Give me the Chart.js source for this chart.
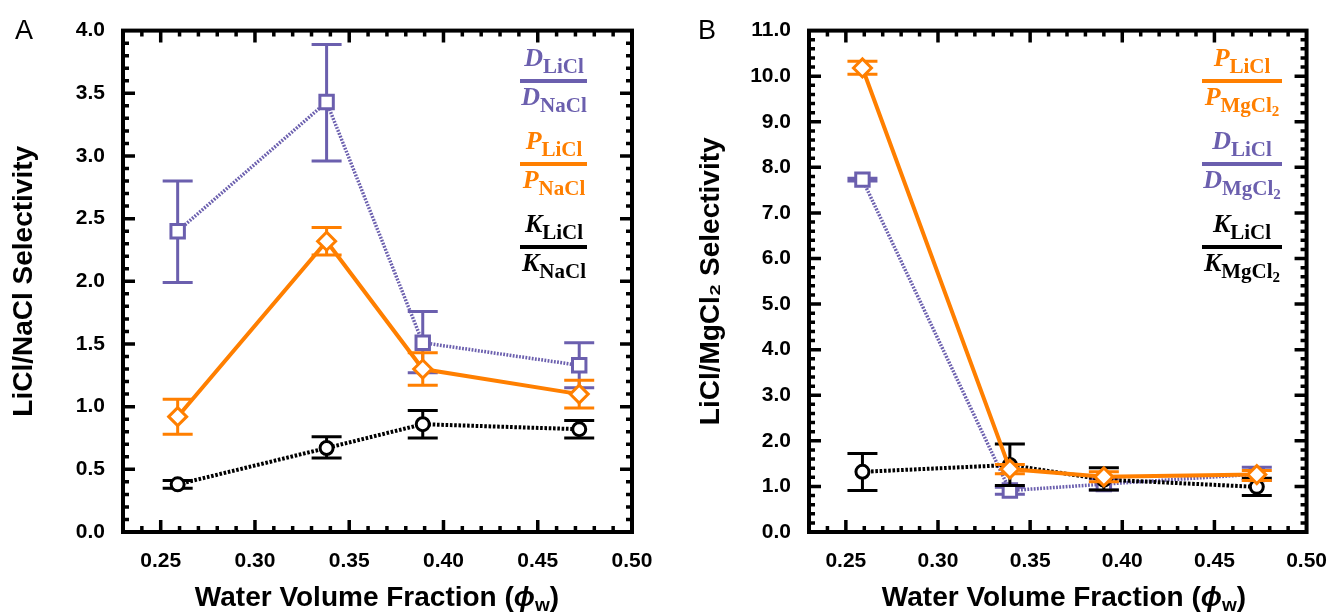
<!DOCTYPE html>
<html>
<head>
<meta charset="utf-8">
<script src="https://cdn.jsdelivr.net/npm/chart.js@4.4.1/dist/chart.umd.min.js"></script>
<style>
  html, body { margin: 0; padding: 0; background: #fff; }
  #wrap { position: relative; width: 1344px; height: 614px; overflow: hidden; background: #fff; }
  canvas { position: absolute; top: 0; }
  .panel { position: absolute; font-family: 'Liberation Sans', Arial, sans-serif; font-size: 27px; line-height: 27px; color: #000; }
  .xtitle { position: absolute; top: 583px; font-family: 'Liberation Sans', Arial, sans-serif; font-weight: bold; font-size: 28px; line-height: 28px; color: #000; white-space: nowrap; transform: translateX(-50%); }
  .xtitle i { font-style: italic; }
  .xtitle sub { font-size: 19px; vertical-align: -5px; line-height: 0; font-weight: bold; }
  .fp { position: absolute; white-space: nowrap; font-family: 'Liberation Serif', 'DejaVu Serif', serif; font-weight: bold; font-size: 26px; line-height: 30px; transform: translateX(-50%); }
  .fp i { font-style: italic; }
  .fp sub { font-size: 21px; vertical-align: -7px; line-height: 0; font-style: normal; }
  .fp sub sub { font-size: 15px; vertical-align: -4px; }
  .bar { position: absolute; height: 4px; }
</style>
</head>
<body>
<div id="wrap">
  <canvas id="chartA" width="672" height="614" style="left:0px"></canvas>
  <canvas id="chartB" width="672" height="614" style="left:672px"></canvas>

  <div class="panel" style="left:15px; top:17px;">A</div>
  <div class="panel" style="left:698px; top:17px;">B</div>

  <div class="xtitle" style="left:377px;">Water Volume Fraction (<i>ϕ</i><sub>w</sub>)</div>
  <div class="xtitle" style="left:1064px;">Water Volume Fraction (<i>ϕ</i><sub>w</sub>)</div>

  <!-- Panel A legend -->
  <div class="fp" style="left:554px; top:43px; color:#6b5fae;"><i>D</i><sub>LiCl</sub></div>
  <div class="bar" style="left:520px; top:79px; width:67px; background:#6b5fae;"></div>
  <div class="fp" style="left:554px; top:82px; color:#6b5fae;"><i>D</i><sub>NaCl</sub></div>

  <div class="fp" style="left:554px; top:126px; color:#ff7f00;"><i>P</i><sub>LiCl</sub></div>
  <div class="bar" style="left:520px; top:162px; width:67px; background:#ff7f00;"></div>
  <div class="fp" style="left:554px; top:165px; color:#ff7f00;"><i>P</i><sub>NaCl</sub></div>

  <div class="fp" style="left:554px; top:209px; color:#000;"><i>K</i><sub>LiCl</sub></div>
  <div class="bar" style="left:520px; top:245px; width:67px; background:#000;"></div>
  <div class="fp" style="left:554px; top:248px; color:#000;"><i>K</i><sub>NaCl</sub></div>

  <!-- Panel B legend -->
  <div class="fp" style="left:1242px; top:43px; color:#ff7f00;"><i>P</i><sub>LiCl</sub></div>
  <div class="bar" style="left:1202px; top:79px; width:80px; background:#ff7f00;"></div>
  <div class="fp" style="left:1242px; top:82px; color:#ff7f00;"><i>P</i><sub>MgCl<sub>2</sub></sub></div>

  <div class="fp" style="left:1242px; top:126px; color:#6b5fae;"><i>D</i><sub>LiCl</sub></div>
  <div class="bar" style="left:1202px; top:162px; width:80px; background:#6b5fae;"></div>
  <div class="fp" style="left:1242px; top:165px; color:#6b5fae;"><i>D</i><sub>MgCl<sub>2</sub></sub></div>

  <div class="fp" style="left:1242px; top:209px; color:#000;"><i>K</i><sub>LiCl</sub></div>
  <div class="bar" style="left:1202px; top:245px; width:80px; background:#000;"></div>
  <div class="fp" style="left:1242px; top:248px; color:#000;"><i>K</i><sub>MgCl<sub>2</sub></sub></div>
</div>

<script>
// ---------------- DATA ----------------
// Panel A: LiCl/NaCl selectivity
const waterFractionA = [0.259, 0.338, 0.389, 0.472];
const diffA      = [2.40, 3.43, 1.51, 1.33];
const diffA_low  = [1.99, 2.96, 1.27, 1.15];
const diffA_high = [2.80, 3.89, 1.76, 1.51];
const permA      = [0.92, 2.32, 1.30, 1.10];
const permA_low  = [0.78, 2.21, 1.17, 0.99];
const permA_high = [1.06, 2.43, 1.43, 1.21];
const sorpA      = [0.38, 0.67, 0.86, 0.82];
const sorpA_low  = [0.35, 0.59, 0.75, 0.75];
const sorpA_high = [0.41, 0.76, 0.97, 0.89];

// Panel B: LiCl/MgCl2 selectivity
const waterFractionB = [0.259, 0.339, 0.390, 0.473];
const permB      = [10.18, 1.38, 1.21, 1.26];
const permB_low  = [10.04, 1.28, 1.10, 1.13];
const permB_high = [10.33, 1.48, 1.32, 1.35];
const diffB      = [7.73, 0.91, 1.05, 1.27];
const diffB_low  = [7.70, 0.83, 0.92, 1.13];
const diffB_high = [7.76, 0.98, 1.17, 1.42];
const sorpB      = [1.32, 1.47, 1.15, 0.99];
const sorpB_low  = [0.91, 1.02, 0.92, 0.80];
const sorpB_high = [1.72, 1.93, 1.41, 1.18];

// Tick labels
const xTickValues = [0.25, 0.30, 0.35, 0.40, 0.45, 0.50];
const yTickValuesA = [0.0, 0.5, 1.0, 1.5, 2.0, 2.5, 3.0, 3.5, 4.0];
const yTickValuesB = [0, 1, 2, 3, 4, 5, 6, 7, 8, 9, 10, 11];

const yTitleA = 'LiCl/NaCl Selectivity';
const yTitleB = 'LiCl/MgCl\u2082 Selectivity';

// ---------------- STYLE ----------------
const ORANGE = '#ff7f00';
const PURPLE = '#6b5fae';
const BLACK = '#000000';
const FONT = "'Liberation Sans', Arial, sans-serif";

const errorBarPlugin = {
  id: 'errorBars',
  beforeDatasetDraw(chart, args) {
    const ds = chart.data.datasets[args.index];
    if (!ds.errLow) return;
    const {ctx} = chart;
    const xs = chart.scales.x, ys = chart.scales.y;
    ctx.save();
    ctx.strokeStyle = ds.borderColor;
    ctx.lineWidth = 3;
    ctx.setLineDash([]);
    ctx.lineCap = 'butt';
    const half = 15;
    ds.data.forEach((p, i) => {
      const px = xs.getPixelForValue(p.x);
      const lo = ys.getPixelForValue(ds.errLow[i]);
      const hi = ys.getPixelForValue(ds.errHigh[i]);
      ctx.beginPath();
      ctx.moveTo(px, lo); ctx.lineTo(px, hi);
      ctx.moveTo(px - half, lo); ctx.lineTo(px + half, lo);
      ctx.moveTo(px - half, hi); ctx.lineTo(px + half, hi);
      ctx.stroke();
    });
    ctx.restore();
  }
};

const framePlugin = {
  id: 'frame',
  afterDraw(chart, args, opts) {
    const {ctx, chartArea: a} = chart;
    const xs = chart.scales.x, ys = chart.scales.y;
    ctx.save();
    ctx.strokeStyle = '#000';
    ctx.setLineDash([]);
    ctx.lineCap = 'butt';
    ctx.lineWidth = 3.5;
    ctx.beginPath();
    const k0 = Math.ceil(xs.min / opts.xStep - 1e-6), k1 = Math.floor(xs.max / opts.xStep + 1e-6);
    for (let k = k0; k <= k1; k++) {
      const v = k * opts.xStep;
      if (Math.abs(v - xs.min) < 1e-6 || Math.abs(v - xs.max) < 1e-6) continue;
      const len = (k % opts.xEvery === 0) ? 12 : 6;
      const px = xs.getPixelForValue(v);
      ctx.moveTo(px, a.bottom); ctx.lineTo(px, a.bottom - len);
      ctx.moveTo(px, a.top); ctx.lineTo(px, a.top + len);
    }
    const j0 = Math.ceil(ys.min / opts.yStep - 1e-6), j1 = Math.floor(ys.max / opts.yStep + 1e-6);
    for (let j = j0; j <= j1; j++) {
      const v = j * opts.yStep;
      if (Math.abs(v - ys.min) < 1e-6 || Math.abs(v - ys.max) < 1e-6) continue;
      const len = (j % opts.yEvery === 0) ? 12 : 6;
      const py = ys.getPixelForValue(v);
      ctx.moveTo(a.left, py); ctx.lineTo(a.left + len, py);
      ctx.moveTo(a.right, py); ctx.lineTo(a.right - len, py);
    }
    ctx.stroke();
    ctx.lineWidth = 4;
    ctx.strokeRect(a.left, a.top, a.right - a.left, a.bottom - a.top);
    ctx.restore();
  }
};

function series(xs, ys, lo, hi, color, kind, order) {
  const base = {
    data: xs.map((x, i) => ({x: x, y: ys[i]})),
    errLow: lo, errHigh: hi,
    borderColor: color,
    backgroundColor: '#ffffff',
    pointBackgroundColor: '#ffffff',
    pointBorderColor: color,
    pointBorderWidth: 3,
    showLine: true,
    order: order,
    tension: 0
  };
  if (kind === 'P') Object.assign(base, {borderWidth: 4, pointStyle: 'rectRot', pointRadius: 9});
  if (kind === 'D') Object.assign(base, {borderWidth: 3.5, borderDash: [1.8, 1.4], pointStyle: 'rect', pointRadius: 9.5});
  if (kind === 'K') Object.assign(base, {borderWidth: 4, borderDash: [2.6, 1.7], pointStyle: 'circle', pointRadius: 6.5});
  return base;
}

function makeOptions(yMax, yTicks, yTitle, leftWidth, rightPad, titlePad) {
  return {
    responsive: false,
    animation: false,
    devicePixelRatio: 1,
    layout: {padding: {top: 23, right: rightPad, bottom: 0, left: 0}},
    plugins: {
      legend: {display: false},
      tooltip: {enabled: false},
      frame: {}
    },
    scales: {
      x: {
        type: 'linear', min: 0.23, max: 0.50,
        afterBuildTicks: s => { s.ticks = xTickValues.map(v => ({value: v})); },
        afterFit: s => { s.height = 82; },
        grid: {display: false, drawTicks: false},
        border: {display: false},
        ticks: {
          padding: 17, color: '#000',
          font: {family: FONT, size: 21, weight: 'bold'},
          callback: v => Number(v).toFixed(2)
        }
      },
      y: {
        type: 'linear', min: 0, max: yMax,
        afterBuildTicks: s => { s.ticks = yTicks.map(v => ({value: v})); },
        afterFit: s => { s.width = leftWidth; },
        grid: {display: false, drawTicks: false},
        border: {display: false},
        ticks: {
          padding: 18, color: '#000',
          font: {family: FONT, size: 21, weight: 'bold'},
          callback: v => Number(v).toFixed(1)
        },
        title: {
          display: true, text: yTitle, color: '#000',
          font: {family: FONT, size: 28, weight: 'bold', lineHeight: 1.2},
          padding: {top: titlePad, bottom: 0}
        }
      }
    }
  };
}

const optsA = makeOptions(4, yTickValuesA, yTitleA, 123, 40, 7);
optsA.plugins.frame = {xStep: 0.01, xEvery: 5, yStep: 0.1, yEvery: 5};
new Chart(document.getElementById('chartA'), {
  type: 'scatter',
  data: {
    datasets: [
      series(waterFractionA, permA, permA_low, permA_high, ORANGE, 'P', 0),
      series(waterFractionA, sorpA, sorpA_low, sorpA_high, BLACK, 'K', 1),
      series(waterFractionA, diffA, diffA_low, diffA_high, PURPLE, 'D', 2)
    ]
  },
  options: optsA,
  plugins: [errorBarPlugin, framePlugin]
});

const optsB = makeOptions(11, yTickValuesB, yTitleB, 137, 25, 22);
optsB.plugins.frame = {xStep: 0.01, xEvery: 5, yStep: 0.2, yEvery: 5};
new Chart(document.getElementById('chartB'), {
  type: 'scatter',
  data: {
    datasets: [
      series(waterFractionB, permB, permB_low, permB_high, ORANGE, 'P', 0),
      series(waterFractionB, sorpB, sorpB_low, sorpB_high, BLACK, 'K', 1),
      series(waterFractionB, diffB, diffB_low, diffB_high, PURPLE, 'D', 2)
    ]
  },
  options: optsB,
  plugins: [errorBarPlugin, framePlugin]
});
</script>
</body>
</html>
